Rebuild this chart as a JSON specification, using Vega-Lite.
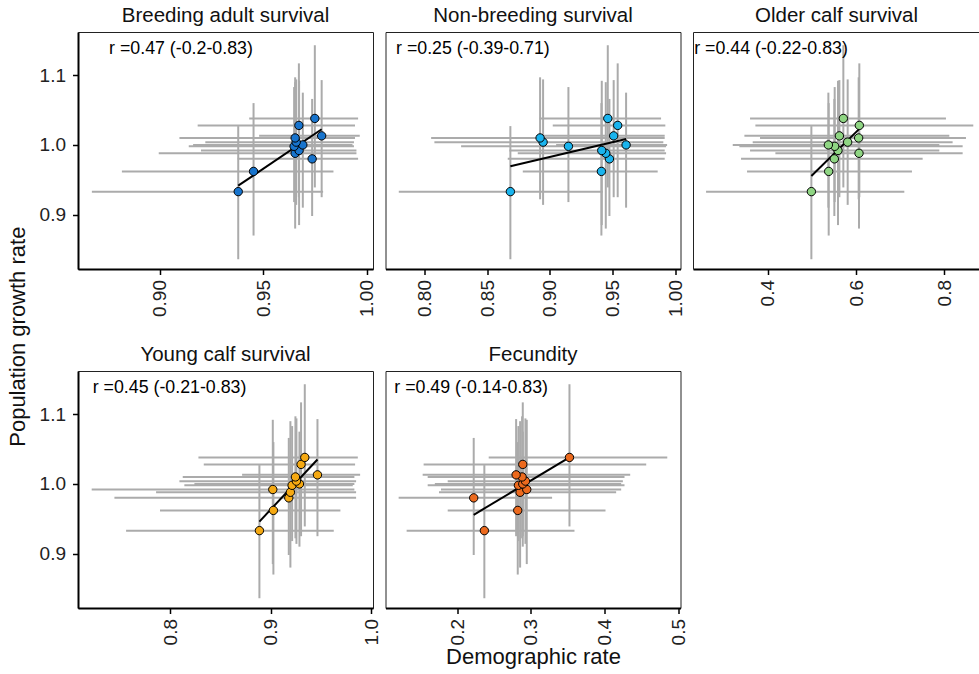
{
  "$schema": "https://vega.github.io/schema/vega-lite/v6.json",
  "padding": {"left": 6, "right": 0, "top": 5, "bottom": 4},
  "title": {"text": "Population growth rate", "orient": "left", "anchor": "middle", "fontSize": 22, "fontWeight": "normal", "font": "Liberation Sans", "color": "#111", "offset": 9},
  "datasets": {
    "pts": [
      {"p": "P1", "pop": "A", "x": 0.9378, "xlo": 0.8671, "xhi": 0.9788, "y": 0.933, "ylo": 0.836, "yhi": 1.027},
      {"p": "P1", "pop": "B", "x": 0.9452, "xlo": 0.8816, "xhi": 0.9838, "y": 0.962, "ylo": 0.870, "yhi": 1.060},
      {"p": "P1", "pop": "C", "x": 0.9735, "xlo": 0.9375, "xhi": 0.9957, "y": 0.980, "ylo": 0.898, "yhi": 1.066},
      {"p": "P1", "pop": "D", "x": 0.9653, "xlo": 0.8994, "xhi": 0.9949, "y": 0.988, "ylo": 0.880, "yhi": 1.090},
      {"p": "P1", "pop": "E", "x": 0.9672, "xlo": 0.9198, "xhi": 0.9949, "y": 0.992, "ylo": 0.885, "yhi": 1.092},
      {"p": "P1", "pop": "F", "x": 0.9648, "xlo": 0.9139, "xhi": 0.9937, "y": 0.998, "ylo": 0.918, "yhi": 1.083},
      {"p": "P1", "pop": "G", "x": 0.9690, "xlo": 0.9160, "xhi": 0.9930, "y": 1.000, "ylo": 0.910, "yhi": 1.075},
      {"p": "P1", "pop": "H", "x": 0.9658, "xlo": 0.9219, "xhi": 0.9937, "y": 1.004, "ylo": 0.914, "yhi": 1.094},
      {"p": "P1", "pop": "I", "x": 0.9653, "xlo": 0.9094, "xhi": 0.9942, "y": 1.010, "ylo": 0.922, "yhi": 1.097},
      {"p": "P1", "pop": "J", "x": 0.9781, "xlo": 0.9479, "xhi": 0.9965, "y": 1.013, "ylo": 0.925, "yhi": 1.093},
      {"p": "P1", "pop": "K", "x": 0.9671, "xlo": 0.9182, "xhi": 0.9942, "y": 1.028, "ylo": 0.925, "yhi": 1.117},
      {"p": "P1", "pop": "L", "x": 0.9748, "xlo": 0.9431, "xhi": 0.9957, "y": 1.038, "ylo": 0.939, "yhi": 1.143},
      {"p": "P2", "pop": "A", "x": 0.8686, "xlo": 0.7796, "xhi": 0.9423, "y": 0.933, "ylo": 0.836, "yhi": 1.027},
      {"p": "P2", "pop": "B", "x": 0.9412, "xlo": 0.8785, "xhi": 0.9861, "y": 0.962, "ylo": 0.870, "yhi": 1.060},
      {"p": "P2", "pop": "C", "x": 0.9476, "xlo": 0.8665, "xhi": 0.9917, "y": 0.980, "ylo": 0.898, "yhi": 1.066},
      {"p": "P2", "pop": "D", "x": 0.9447, "xlo": 0.8745, "xhi": 0.9928, "y": 0.988, "ylo": 0.880, "yhi": 1.090},
      {"p": "P2", "pop": "E", "x": 0.9415, "xlo": 0.8678, "xhi": 0.9917, "y": 0.992, "ylo": 0.885, "yhi": 1.092},
      {"p": "P2", "pop": "F", "x": 0.9149, "xlo": 0.8293, "xhi": 0.9928, "y": 0.998, "ylo": 0.918, "yhi": 1.083},
      {"p": "P2", "pop": "G", "x": 0.9609, "xlo": 0.9051, "xhi": 0.9936, "y": 1.000, "ylo": 0.910, "yhi": 1.075},
      {"p": "P2", "pop": "H", "x": 0.8947, "xlo": 0.8080, "xhi": 0.9906, "y": 1.004, "ylo": 0.914, "yhi": 1.094},
      {"p": "P2", "pop": "I", "x": 0.8923, "xlo": 0.8054, "xhi": 0.9917, "y": 1.010, "ylo": 0.922, "yhi": 1.097},
      {"p": "P2", "pop": "J", "x": 0.9510, "xlo": 0.8931, "xhi": 0.9917, "y": 1.013, "ylo": 0.925, "yhi": 1.093},
      {"p": "P2", "pop": "K", "x": 0.9542, "xlo": 0.9024, "xhi": 0.9922, "y": 1.028, "ylo": 0.925, "yhi": 1.117},
      {"p": "P2", "pop": "L", "x": 0.9463, "xlo": 0.8918, "xhi": 0.9888, "y": 1.038, "ylo": 0.939, "yhi": 1.143},
      {"p": "P3", "pop": "A", "x": 0.4989, "xlo": 0.2604, "xhi": 0.7094, "y": 0.933, "ylo": 0.836, "yhi": 1.027},
      {"p": "P3", "pop": "B", "x": 0.5381, "xlo": 0.3532, "xhi": 0.7267, "y": 0.962, "ylo": 0.870, "yhi": 1.060},
      {"p": "P3", "pop": "C", "x": 0.5509, "xlo": 0.3396, "xhi": 0.7509, "y": 0.980, "ylo": 0.898, "yhi": 1.066},
      {"p": "P3", "pop": "D", "x": 0.6068, "xlo": 0.4174, "xhi": 0.8415, "y": 0.988, "ylo": 0.880, "yhi": 1.090},
      {"p": "P3", "pop": "E", "x": 0.5592, "xlo": 0.3600, "xhi": 0.7887, "y": 0.992, "ylo": 0.885, "yhi": 1.092},
      {"p": "P3", "pop": "F", "x": 0.5517, "xlo": 0.3358, "xhi": 0.8415, "y": 0.998, "ylo": 0.918, "yhi": 1.083},
      {"p": "P3", "pop": "G", "x": 0.5374, "xlo": 0.3208, "xhi": 0.7887, "y": 1.000, "ylo": 0.910, "yhi": 1.075},
      {"p": "P3", "pop": "H", "x": 0.5811, "xlo": 0.3660, "xhi": 0.8188, "y": 1.004, "ylo": 0.914, "yhi": 1.094},
      {"p": "P3", "pop": "I", "x": 0.6060, "xlo": 0.3826, "xhi": 0.8490, "y": 1.010, "ylo": 0.922, "yhi": 1.097},
      {"p": "P3", "pop": "J", "x": 0.5623, "xlo": 0.3472, "xhi": 0.8113, "y": 1.013, "ylo": 0.925, "yhi": 1.093},
      {"p": "P3", "pop": "K", "x": 0.6075, "xlo": 0.3721, "xhi": 0.8656, "y": 1.028, "ylo": 0.925, "yhi": 1.117},
      {"p": "P3", "pop": "L", "x": 0.5713, "xlo": 0.3600, "xhi": 0.8037, "y": 1.038, "ylo": 0.939, "yhi": 1.143},
      {"p": "P4", "pop": "A", "x": 0.8888, "xlo": 0.7563, "xhi": 0.9627, "y": 0.933, "ylo": 0.836, "yhi": 1.027},
      {"p": "P4", "pop": "B", "x": 0.9027, "xlo": 0.7900, "xhi": 0.9693, "y": 0.962, "ylo": 0.870, "yhi": 1.060},
      {"p": "P4", "pop": "C", "x": 0.9180, "xlo": 0.7447, "xhi": 0.9849, "y": 0.980, "ylo": 0.898, "yhi": 1.066},
      {"p": "P4", "pop": "D", "x": 0.9196, "xlo": 0.7861, "xhi": 0.9849, "y": 0.988, "ylo": 0.880, "yhi": 1.090},
      {"p": "P4", "pop": "E", "x": 0.9021, "xlo": 0.7221, "xhi": 0.9832, "y": 0.992, "ylo": 0.885, "yhi": 1.092},
      {"p": "P4", "pop": "F", "x": 0.9213, "xlo": 0.8142, "xhi": 0.9816, "y": 0.998, "ylo": 0.918, "yhi": 1.083},
      {"p": "P4", "pop": "G", "x": 0.9286, "xlo": 0.8242, "xhi": 0.9832, "y": 1.000, "ylo": 0.910, "yhi": 1.075},
      {"p": "P4", "pop": "H", "x": 0.9256, "xlo": 0.8093, "xhi": 0.9849, "y": 1.004, "ylo": 0.914, "yhi": 1.094},
      {"p": "P4", "pop": "I", "x": 0.9246, "xlo": 0.8126, "xhi": 0.9832, "y": 1.010, "ylo": 0.922, "yhi": 1.097},
      {"p": "P4", "pop": "J", "x": 0.9465, "xlo": 0.8716, "xhi": 0.9889, "y": 1.013, "ylo": 0.925, "yhi": 1.093},
      {"p": "P4", "pop": "K", "x": 0.9302, "xlo": 0.8335, "xhi": 0.9839, "y": 1.028, "ylo": 0.925, "yhi": 1.117},
      {"p": "P4", "pop": "L", "x": 0.9339, "xlo": 0.8282, "xhi": 0.9866, "y": 1.038, "ylo": 0.939, "yhi": 1.143},
      {"p": "P5", "pop": "A", "x": 0.2370, "xlo": 0.1318, "xhi": 0.3590, "y": 0.933, "ylo": 0.836, "yhi": 1.027},
      {"p": "P5", "pop": "B", "x": 0.2822, "xlo": 0.1874, "xhi": 0.4010, "y": 0.962, "ylo": 0.870, "yhi": 1.060},
      {"p": "P5", "pop": "C", "x": 0.2226, "xlo": 0.1210, "xhi": 0.3287, "y": 0.980, "ylo": 0.898, "yhi": 1.066},
      {"p": "P5", "pop": "D", "x": 0.2854, "xlo": 0.1756, "xhi": 0.4154, "y": 0.988, "ylo": 0.880, "yhi": 1.090},
      {"p": "P5", "pop": "E", "x": 0.2944, "xlo": 0.1783, "xhi": 0.4222, "y": 0.992, "ylo": 0.885, "yhi": 1.092},
      {"p": "P5", "pop": "F", "x": 0.2831, "xlo": 0.1603, "xhi": 0.4267, "y": 0.998, "ylo": 0.918, "yhi": 1.083},
      {"p": "P5", "pop": "G", "x": 0.2890, "xlo": 0.1700, "xhi": 0.4222, "y": 1.000, "ylo": 0.910, "yhi": 1.075},
      {"p": "P5", "pop": "H", "x": 0.2926, "xlo": 0.1874, "xhi": 0.4245, "y": 1.004, "ylo": 0.914, "yhi": 1.094},
      {"p": "P5", "pop": "I", "x": 0.2881, "xlo": 0.1603, "xhi": 0.4267, "y": 1.010, "ylo": 0.922, "yhi": 1.097},
      {"p": "P5", "pop": "J", "x": 0.2800, "xlo": 0.1535, "xhi": 0.4344, "y": 1.013, "ylo": 0.925, "yhi": 1.093},
      {"p": "P5", "pop": "K", "x": 0.2890, "xlo": 0.1548, "xhi": 0.4561, "y": 1.028, "ylo": 0.925, "yhi": 1.117},
      {"p": "P5", "pop": "L", "x": 0.3522, "xlo": 0.2429, "xhi": 0.4846, "y": 1.038, "ylo": 0.939, "yhi": 1.143}
    ],
    "fit": [
      {"p": "P1", "x": 0.9378, "y": 0.9415}, {"p": "P1", "x": 0.9781, "y": 1.0225},
      {"p": "P2", "x": 0.8686, "y": 0.9693}, {"p": "P2", "x": 0.9609, "y": 1.0086},
      {"p": "P3", "x": 0.4989, "y": 0.9555}, {"p": "P3", "x": 0.6075, "y": 1.0230},
      {"p": "P4", "x": 0.8888, "y": 0.9460}, {"p": "P4", "x": 0.9465, "y": 1.0351},
      {"p": "P5", "x": 0.2226, "y": 0.9557}, {"p": "P5", "x": 0.3522, "y": 1.0380}
    ],
    "ann": [
      {"p": "P1", "tx": 0.8754, "ty": 1.137, "label": "r =0.47 (-0.2-0.83)"},
      {"p": "P2", "tx": 0.7774, "ty": 1.137, "label": "r =0.25 (-0.39-0.71)"},
      {"p": "P3", "tx": 0.2335, "ty": 1.137, "label": "r =0.44 (-0.22-0.83)"},
      {"p": "P4", "tx": 0.7231, "ty": 1.137, "label": "r =0.45 (-0.21-0.83)"},
      {"p": "P5", "tx": 0.1151, "ty": 1.137, "label": "r =0.49 (-0.14-0.83)"}
    ]
  },
  "columns": 3,
  "bounds": "flush",
  "spacing": {"row": 102, "column": 12.5},
  "concat": [
    {
      "title": "Breeding adult survival",
      "width": 295, "height": 237,
      "layer": [
        {"data": {"name": "pts"}, "transform": [{"filter": "datum.p === 'P1'"}],
         "mark": {"type": "rule", "color": "#ABABAB", "strokeWidth": 2},
         "encoding": {
           "x": {"field": "xlo", "type": "quantitative", "scale": {"domain": [0.8604, 1.0029], "nice": false, "zero": false}, "axis": {"values": [0.9, 0.95, 1.0], "format": ".2f", "title": null}},
           "x2": {"field": "xhi"},
           "y": {"field": "y", "type": "quantitative", "scale": {"domain": [0.822, 1.162], "nice": false, "zero": false}, "axis": {"values": [0.9, 1.0, 1.1], "format": ".1f", "title": null}}}},
        {"data": {"name": "pts"}, "transform": [{"filter": "datum.p === 'P1'"}],
         "mark": {"type": "rule", "color": "#ABABAB", "strokeWidth": 2},
         "encoding": {
           "x": {"field": "x", "type": "quantitative", "scale": {"domain": [0.8604, 1.0029], "nice": false, "zero": false}},
           "y": {"field": "ylo", "type": "quantitative", "scale": {"domain": [0.822, 1.162], "nice": false, "zero": false}},
           "y2": {"field": "yhi"}}},
        {"data": {"name": "fit"}, "transform": [{"filter": "datum.p === 'P1'"}],
         "mark": {"type": "line", "color": "#000", "strokeWidth": 2},
         "encoding": {
           "x": {"field": "x", "type": "quantitative", "scale": {"domain": [0.8604, 1.0029], "nice": false, "zero": false}},
           "y": {"field": "y", "type": "quantitative", "scale": {"domain": [0.822, 1.162], "nice": false, "zero": false}}}},
        {"data": {"name": "pts"}, "transform": [{"filter": "datum.p === 'P1'"}],
         "mark": {"type": "circle", "size": 70, "fill": "#1874CD", "stroke": "#000", "strokeWidth": 1, "opacity": 1},
         "encoding": {
           "x": {"field": "x", "type": "quantitative", "scale": {"domain": [0.8604, 1.0029], "nice": false, "zero": false}},
           "y": {"field": "y", "type": "quantitative", "scale": {"domain": [0.822, 1.162], "nice": false, "zero": false}}}},
        {"data": {"name": "ann"}, "transform": [{"filter": "datum.p === 'P1'"}],
         "mark": {"type": "text", "align": "left", "baseline": "middle", "fontSize": 17.8, "color": "#000"},
         "encoding": {
           "x": {"field": "tx", "type": "quantitative", "scale": {"domain": [0.8604, 1.0029], "nice": false, "zero": false}},
           "y": {"field": "ty", "type": "quantitative", "scale": {"domain": [0.822, 1.162], "nice": false, "zero": false}},
           "text": {"field": "label"}}}
      ]
    },
    {
      "title": "Non-breeding survival",
      "width": 295, "height": 237,
      "layer": [
        {"data": {"name": "pts"}, "transform": [{"filter": "datum.p === 'P2'"}],
         "mark": {"type": "rule", "color": "#ABABAB", "strokeWidth": 2},
         "encoding": {
           "x": {"field": "xlo", "type": "quantitative", "scale": {"domain": [0.769, 1.0043], "nice": false, "zero": false}, "axis": {"values": [0.8, 0.85, 0.9, 0.95, 1.0], "format": ".2f", "title": null}},
           "x2": {"field": "xhi"},
           "y": {"field": "y", "type": "quantitative", "scale": {"domain": [0.822, 1.162], "nice": false, "zero": false}, "axis": null}}},
        {"data": {"name": "pts"}, "transform": [{"filter": "datum.p === 'P2'"}],
         "mark": {"type": "rule", "color": "#ABABAB", "strokeWidth": 2},
         "encoding": {
           "x": {"field": "x", "type": "quantitative", "scale": {"domain": [0.769, 1.0043], "nice": false, "zero": false}},
           "y": {"field": "ylo", "type": "quantitative", "scale": {"domain": [0.822, 1.162], "nice": false, "zero": false}, "axis": null},
           "y2": {"field": "yhi"}}},
        {"data": {"name": "fit"}, "transform": [{"filter": "datum.p === 'P2'"}],
         "mark": {"type": "line", "color": "#000", "strokeWidth": 2},
         "encoding": {
           "x": {"field": "x", "type": "quantitative", "scale": {"domain": [0.769, 1.0043], "nice": false, "zero": false}},
           "y": {"field": "y", "type": "quantitative", "scale": {"domain": [0.822, 1.162], "nice": false, "zero": false}, "axis": null}}},
        {"data": {"name": "pts"}, "transform": [{"filter": "datum.p === 'P2'"}],
         "mark": {"type": "circle", "size": 70, "fill": "#1AB4EE", "stroke": "#000", "strokeWidth": 1, "opacity": 1},
         "encoding": {
           "x": {"field": "x", "type": "quantitative", "scale": {"domain": [0.769, 1.0043], "nice": false, "zero": false}},
           "y": {"field": "y", "type": "quantitative", "scale": {"domain": [0.822, 1.162], "nice": false, "zero": false}, "axis": null}}},
        {"data": {"name": "ann"}, "transform": [{"filter": "datum.p === 'P2'"}],
         "mark": {"type": "text", "align": "left", "baseline": "middle", "fontSize": 17.8, "color": "#000"},
         "encoding": {
           "x": {"field": "tx", "type": "quantitative", "scale": {"domain": [0.769, 1.0043], "nice": false, "zero": false}},
           "y": {"field": "ty", "type": "quantitative", "scale": {"domain": [0.822, 1.162], "nice": false, "zero": false}, "axis": null},
           "text": {"field": "label"}}}
      ]
    },
    {
      "title": "Older calf survival",
      "width": 287, "height": 237,
      "view": {"stroke": null},
      "resolve": {"axis": {"x": "independent"}},
      "layer": [
        {"data": {"name": "pts"}, "transform": [{"filter": "datum.p === 'P3'"}],
         "mark": {"type": "rule", "color": "#ABABAB", "strokeWidth": 2},
         "encoding": {
           "x": {"field": "xlo", "type": "quantitative", "scale": {"domain": [0.2308, 0.8808], "nice": false, "zero": false}, "axis": {"values": [0.4, 0.6, 0.8], "format": ".1f", "title": null}},
           "x2": {"field": "xhi"},
           "y": {"field": "y", "type": "quantitative", "scale": {"domain": [0.822, 1.162], "nice": false, "zero": false}, "axis": {"labels": false, "ticks": false, "domain": true, "domainWidth": 1, "domainColor": "#222", "title": null}}}},
        {"data": {"name": "pts"}, "transform": [{"filter": "datum.p === 'P3'"}],
         "mark": {"type": "rule", "color": "#ABABAB", "strokeWidth": 2},
         "encoding": {
           "x": {"field": "x", "type": "quantitative", "scale": {"domain": [0.2308, 0.8808], "nice": false, "zero": false}, "axis": null},
           "y": {"field": "ylo", "type": "quantitative", "scale": {"domain": [0.822, 1.162], "nice": false, "zero": false}},
           "y2": {"field": "yhi"}}},
        {"data": {"name": "fit"}, "transform": [{"filter": "datum.p === 'P3'"}],
         "mark": {"type": "line", "color": "#000", "strokeWidth": 2},
         "encoding": {
           "x": {"field": "x", "type": "quantitative", "scale": {"domain": [0.2308, 0.8808], "nice": false, "zero": false}, "axis": null},
           "y": {"field": "y", "type": "quantitative", "scale": {"domain": [0.822, 1.162], "nice": false, "zero": false}}}},
        {"data": {"name": "pts"}, "transform": [{"filter": "datum.p === 'P3'"}],
         "mark": {"type": "circle", "size": 70, "fill": "#8FD583", "stroke": "#000", "strokeWidth": 1, "opacity": 1},
         "encoding": {
           "x": {"field": "x", "type": "quantitative", "scale": {"domain": [0.2308, 0.8808], "nice": false, "zero": false}, "axis": null},
           "y": {"field": "y", "type": "quantitative", "scale": {"domain": [0.822, 1.162], "nice": false, "zero": false}}}},
        {"data": {"name": "ann"}, "transform": [{"filter": "datum.p === 'P3'"}],
         "mark": {"type": "text", "align": "left", "baseline": "middle", "fontSize": 17.8, "color": "#000"},
         "encoding": {
           "x": {"field": "tx", "type": "quantitative", "scale": {"domain": [0.2308, 0.8808], "nice": false, "zero": false}, "axis": {"orient": "top", "labels": false, "ticks": false, "domain": true, "domainWidth": 1, "domainColor": "#222", "title": null}},
           "y": {"field": "ty", "type": "quantitative", "scale": {"domain": [0.822, 1.162], "nice": false, "zero": false}},
           "text": {"field": "label"}}}
      ]
    },
    {
      "title": "Young calf survival",
      "width": 295, "height": 237,
      "layer": [
        {"data": {"name": "pts"}, "transform": [{"filter": "datum.p === 'P4'"}],
         "mark": {"type": "rule", "color": "#ABABAB", "strokeWidth": 2},
         "encoding": {
           "x": {"field": "xlo", "type": "quantitative", "scale": {"domain": [0.7085, 1.0017], "nice": false, "zero": false}, "axis": {"values": [0.8, 0.9, 1.0], "format": ".1f", "title": null}},
           "x2": {"field": "xhi"},
           "y": {"field": "y", "type": "quantitative", "scale": {"domain": [0.822, 1.162], "nice": false, "zero": false}, "axis": {"values": [0.9, 1.0, 1.1], "format": ".1f", "title": null}}}},
        {"data": {"name": "pts"}, "transform": [{"filter": "datum.p === 'P4'"}],
         "mark": {"type": "rule", "color": "#ABABAB", "strokeWidth": 2},
         "encoding": {
           "x": {"field": "x", "type": "quantitative", "scale": {"domain": [0.7085, 1.0017], "nice": false, "zero": false}},
           "y": {"field": "ylo", "type": "quantitative", "scale": {"domain": [0.822, 1.162], "nice": false, "zero": false}},
           "y2": {"field": "yhi"}}},
        {"data": {"name": "fit"}, "transform": [{"filter": "datum.p === 'P4'"}],
         "mark": {"type": "line", "color": "#000", "strokeWidth": 2},
         "encoding": {
           "x": {"field": "x", "type": "quantitative", "scale": {"domain": [0.7085, 1.0017], "nice": false, "zero": false}},
           "y": {"field": "y", "type": "quantitative", "scale": {"domain": [0.822, 1.162], "nice": false, "zero": false}}}},
        {"data": {"name": "pts"}, "transform": [{"filter": "datum.p === 'P4'"}],
         "mark": {"type": "circle", "size": 70, "fill": "#F5A912", "stroke": "#000", "strokeWidth": 1, "opacity": 1},
         "encoding": {
           "x": {"field": "x", "type": "quantitative", "scale": {"domain": [0.7085, 1.0017], "nice": false, "zero": false}},
           "y": {"field": "y", "type": "quantitative", "scale": {"domain": [0.822, 1.162], "nice": false, "zero": false}}}},
        {"data": {"name": "ann"}, "transform": [{"filter": "datum.p === 'P4'"}],
         "mark": {"type": "text", "align": "left", "baseline": "middle", "fontSize": 17.8, "color": "#000"},
         "encoding": {
           "x": {"field": "tx", "type": "quantitative", "scale": {"domain": [0.7085, 1.0017], "nice": false, "zero": false}},
           "y": {"field": "ty", "type": "quantitative", "scale": {"domain": [0.822, 1.162], "nice": false, "zero": false}},
           "text": {"field": "label"}}}
      ]
    },
    {
      "title": "Fecundity",
      "width": 295, "height": 237,
      "layer": [
        {"data": {"name": "pts"}, "transform": [{"filter": "datum.p === 'P5'"}],
         "mark": {"type": "rule", "color": "#ABABAB", "strokeWidth": 2},
         "encoding": {
           "x": {"field": "xlo", "type": "quantitative", "scale": {"domain": [0.1032, 0.5025], "nice": false, "zero": false}, "axis": {"values": [0.2, 0.3, 0.4, 0.5], "format": ".1f", "title": "Demographic rate"}},
           "x2": {"field": "xhi"},
           "y": {"field": "y", "type": "quantitative", "scale": {"domain": [0.822, 1.162], "nice": false, "zero": false}, "axis": null}}},
        {"data": {"name": "pts"}, "transform": [{"filter": "datum.p === 'P5'"}],
         "mark": {"type": "rule", "color": "#ABABAB", "strokeWidth": 2},
         "encoding": {
           "x": {"field": "x", "type": "quantitative", "scale": {"domain": [0.1032, 0.5025], "nice": false, "zero": false}},
           "y": {"field": "ylo", "type": "quantitative", "scale": {"domain": [0.822, 1.162], "nice": false, "zero": false}, "axis": null},
           "y2": {"field": "yhi"}}},
        {"data": {"name": "fit"}, "transform": [{"filter": "datum.p === 'P5'"}],
         "mark": {"type": "line", "color": "#000", "strokeWidth": 2},
         "encoding": {
           "x": {"field": "x", "type": "quantitative", "scale": {"domain": [0.1032, 0.5025], "nice": false, "zero": false}},
           "y": {"field": "y", "type": "quantitative", "scale": {"domain": [0.822, 1.162], "nice": false, "zero": false}, "axis": null}}},
        {"data": {"name": "pts"}, "transform": [{"filter": "datum.p === 'P5'"}],
         "mark": {"type": "circle", "size": 70, "fill": "#EC6A1E", "stroke": "#000", "strokeWidth": 1, "opacity": 1},
         "encoding": {
           "x": {"field": "x", "type": "quantitative", "scale": {"domain": [0.1032, 0.5025], "nice": false, "zero": false}},
           "y": {"field": "y", "type": "quantitative", "scale": {"domain": [0.822, 1.162], "nice": false, "zero": false}, "axis": null}}},
        {"data": {"name": "ann"}, "transform": [{"filter": "datum.p === 'P5'"}],
         "mark": {"type": "text", "align": "left", "baseline": "middle", "fontSize": 17.8, "color": "#000"},
         "encoding": {
           "x": {"field": "tx", "type": "quantitative", "scale": {"domain": [0.1032, 0.5025], "nice": false, "zero": false}},
           "y": {"field": "ty", "type": "quantitative", "scale": {"domain": [0.822, 1.162], "nice": false, "zero": false}, "axis": null},
           "text": {"field": "label"}}}
      ]
    }
  ],
  "config": {
    "font": "Liberation Sans",
    "background": "#ffffff",
    "view": {"stroke": "#222", "strokeWidth": 1},
    "axis": {"domainColor": "#000", "domainWidth": 2, "tickColor": "#000", "tickWidth": 1.5, "tickSize": 5.5, "labelFontSize": 19, "labelColor": "#222", "labelFont": "Liberation Sans", "grid": false, "titleFontSize": 22, "titleFontWeight": "normal", "titleColor": "#111", "titleFont": "Liberation Sans", "titlePadding": 2},
    "axisX": {"labelAngle": 270, "labelPadding": 5},
    "axisY": {"labelPadding": 7},
    "title": {"fontSize": 20.5, "fontWeight": "normal", "font": "Liberation Sans", "color": "#111", "baseline": "alphabetic", "offset": 6}
  }
}
